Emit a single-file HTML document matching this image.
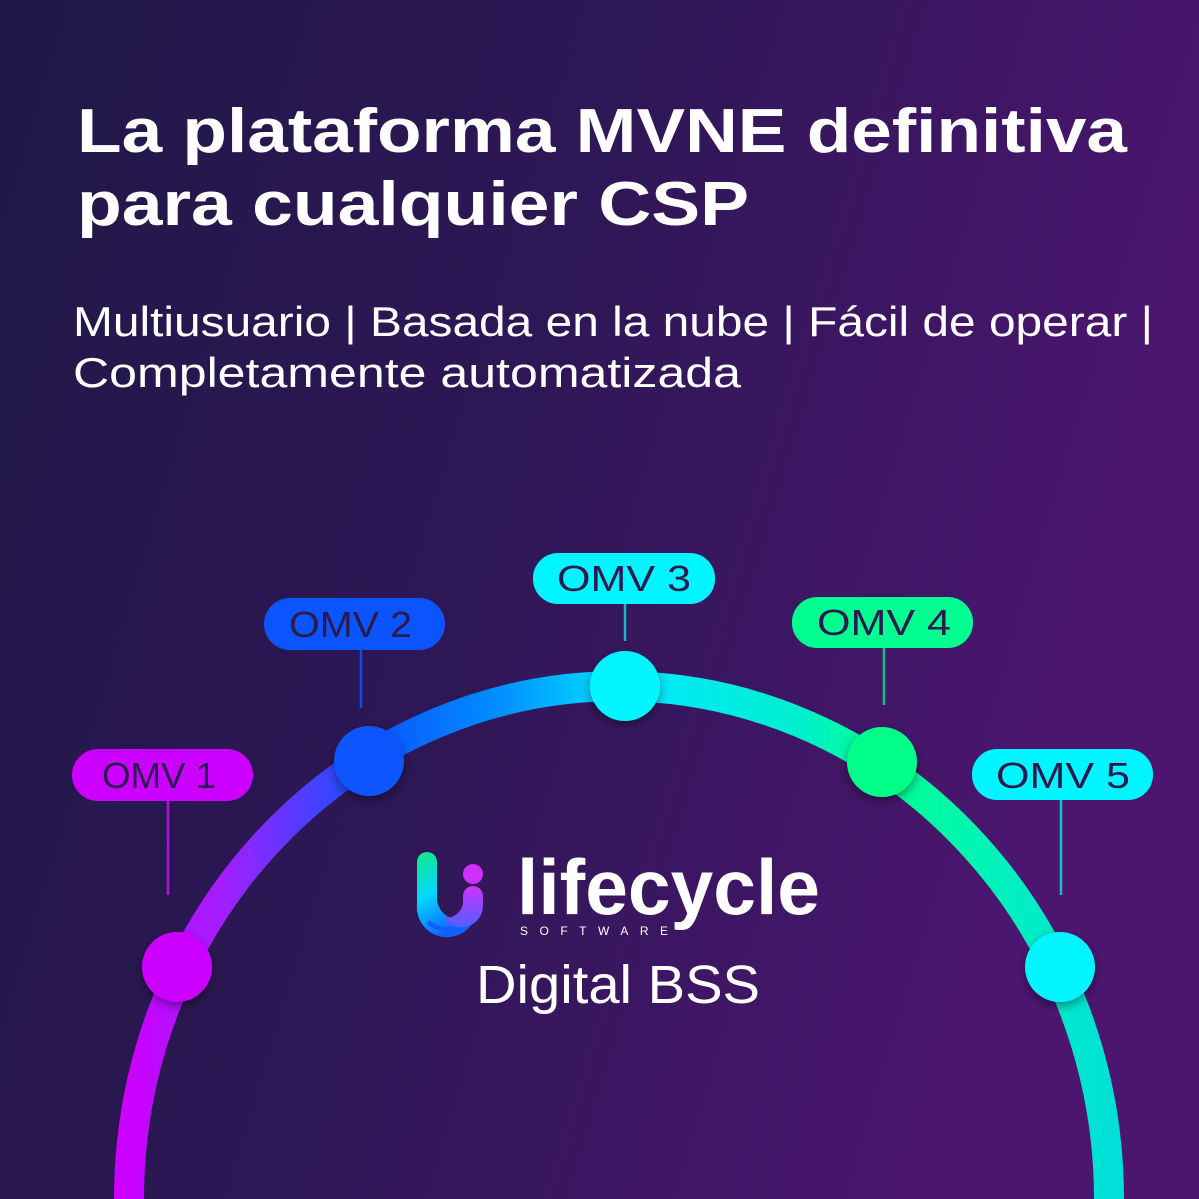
<!DOCTYPE html>
<html><head><meta charset="utf-8"><style>
html,body{margin:0;padding:0;width:1199px;height:1199px;overflow:hidden}
svg{display:block}
text{font-family:"Liberation Sans",sans-serif}
</style></head><body>
<svg width="1199" height="1199" viewBox="0 0 1199 1199" xmlns="http://www.w3.org/2000/svg">
<defs>
<linearGradient id="bg" x1="0" y1="0" x2="1" y2="0.3">
<stop offset="0" stop-color="#201847"/><stop offset="0.5" stop-color="#2e1756"/><stop offset="1" stop-color="#4c1670"/>
</linearGradient>
<linearGradient id="arc" gradientUnits="userSpaceOnUse" x1="128" y1="0" x2="1110" y2="0">
<stop offset="0" stop-color="#cc00ff"/>
<stop offset="0.1" stop-color="#a020ff"/>
<stop offset="0.25" stop-color="#0a55ff"/>
<stop offset="0.38" stop-color="#0090ff"/>
<stop offset="0.51" stop-color="#00e8ff"/>
<stop offset="0.68" stop-color="#00eed0"/>
<stop offset="0.77" stop-color="#00ff90"/>
<stop offset="0.9" stop-color="#00f0c0"/>
<stop offset="1" stop-color="#00e0d8"/>
</linearGradient>
<linearGradient id="icon" x1="0" y1="0" x2="0.4" y2="1">
<stop offset="0" stop-color="#14e880"/><stop offset="0.5" stop-color="#00d8ff"/><stop offset="1" stop-color="#1060ff"/>
</linearGradient>
<linearGradient id="icon2" x1="0" y1="0" x2="0" y2="1">
<stop offset="0" stop-color="#cc33ff"/><stop offset="1" stop-color="#5060ff"/>
</linearGradient>
<filter id="sh" x="-50%" y="-50%" width="200%" height="200%"><feDropShadow dx="0" dy="4" stdDeviation="5" flood-color="#000" flood-opacity="0.4"/></filter>
</defs>
<rect width="1199" height="1199" fill="url(#bg)"/>
<text x="77" y="152" font-size="62" font-weight="bold" fill="#fff" textLength="1050" lengthAdjust="spacingAndGlyphs">La plataforma MVNE definitiva</text>
<text x="77" y="225" font-size="62" font-weight="bold" fill="#fff" textLength="672" lengthAdjust="spacingAndGlyphs">para cualquier CSP</text>
<text x="73" y="336" font-size="42" fill="#fff" textLength="1080" lengthAdjust="spacingAndGlyphs">Multiusuario | Basada en la nube  | Fácil de operar |</text>
<text x="73" y="387" font-size="42" fill="#fff" textLength="668" lengthAdjust="spacingAndGlyphs">Completamente automatizada</text>

<path d="M129,1199 A490,513 0 0 1 1109,1199" fill="none" stroke="url(#arc)" stroke-width="30"/>

<g stroke-width="2.5">
<line x1="168" y1="800" x2="168" y2="895" stroke="#b010e0"/>
<line x1="361" y1="650" x2="361" y2="708" stroke="#0a50e0"/>
<line x1="625" y1="604" x2="625" y2="641" stroke="#10b8c8"/>
<line x1="884" y1="648" x2="884" y2="705" stroke="#10c080"/>
<line x1="1061" y1="800" x2="1061" y2="895" stroke="#10c0c8"/>
</g>
<g font-size="36" fill="#2a1a50">
<rect x="72" y="749" width="181" height="52" rx="26" fill="#cc00ff"/>
<text x="102" y="788" textLength="114" lengthAdjust="spacingAndGlyphs">OMV 1</text>
<rect x="264" y="598" width="181" height="52" rx="26" fill="#0a55ff"/>
<text x="289" y="637" textLength="123" lengthAdjust="spacingAndGlyphs">OMV 2</text>
<rect x="533" y="553" width="182" height="51" rx="25" fill="#00f5ff"/>
<text x="557" y="591" textLength="134" lengthAdjust="spacingAndGlyphs">OMV  3</text>
<rect x="792" y="597" width="181" height="51" rx="25" fill="#00ff90"/>
<text x="817" y="635" textLength="134" lengthAdjust="spacingAndGlyphs">OMV  4</text>
<rect x="972" y="749" width="181" height="51" rx="25" fill="#00f5ff"/>
<text x="996" y="788" textLength="134" lengthAdjust="spacingAndGlyphs">OMV  5</text>
</g>
<g filter="url(#sh)">
<circle cx="177" cy="967" r="35" fill="#cc00ff"/>
<circle cx="369" cy="761" r="35" fill="#0a55ff"/>
<circle cx="625" cy="686" r="35" fill="#00f5ff"/>
<circle cx="882" cy="762" r="35" fill="#00ff88"/>
<circle cx="1060" cy="967" r="35" fill="#00f5ff"/>
</g>

<path d="M417,862 a10,10 0 0 1 20,0 v38 a22,22 0 0 0 40,10 a30,30 0 0 1 -60,-6 z" fill="url(#icon)"/>
<path d="M428,922 a30,25 0 0 0 50,-10" fill="none" stroke="#1060ff" stroke-width="5"/>
<circle cx="473" cy="874" r="10" fill="#d030ff"/>
<path d="M463,896 a10,10 0 0 1 20,0 v8 a22,22 0 0 1 -40,14 a18,18 0 0 0 20,-14 z" fill="url(#icon2)"/>
<text x="517" y="914" font-size="78" font-weight="bold" fill="#fff" textLength="303" lengthAdjust="spacingAndGlyphs">lifecycle</text>
<text x="520" y="935" font-size="12" fill="#fff" textLength="148" lengthAdjust="spacing">SOFTWARE</text>
<text x="476" y="1003" font-size="54" fill="#fff" textLength="284" lengthAdjust="spacingAndGlyphs">Digital BSS</text>
</svg>
</body></html>
